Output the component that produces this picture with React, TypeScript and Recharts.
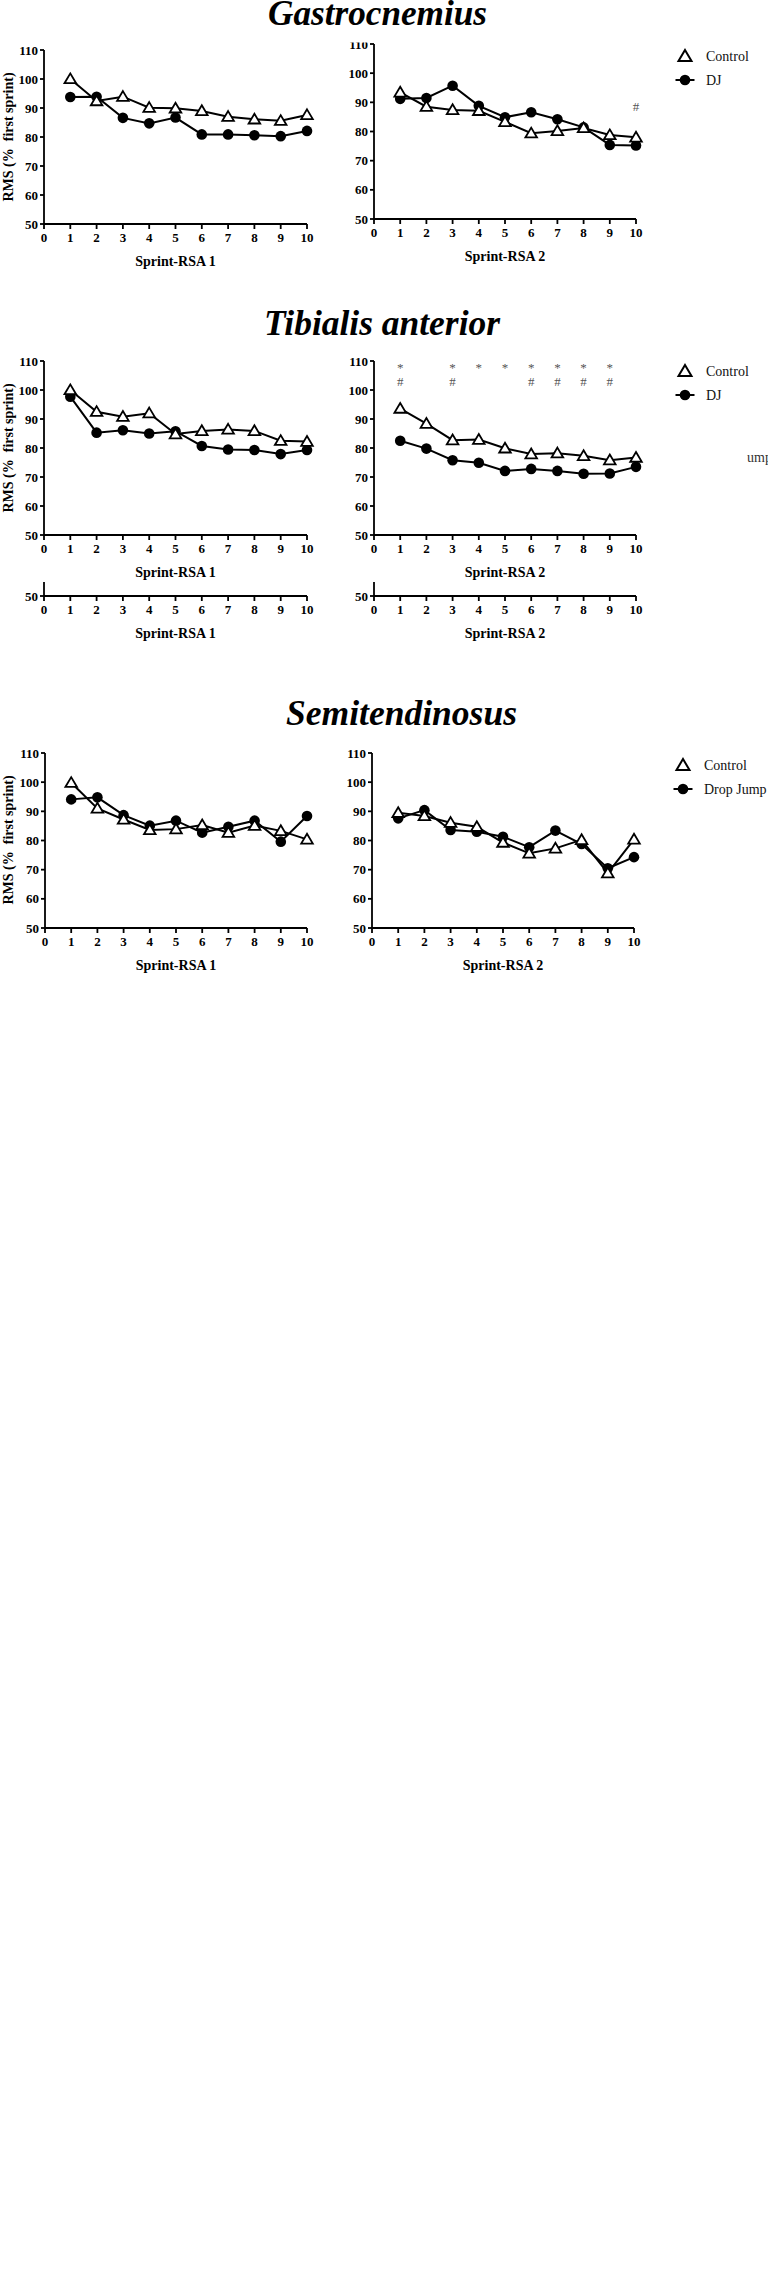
import React from 'react';
import { LineChart, Line, XAxis, YAxis } from 'recharts';

const SERIF = "'Liberation Serif', 'Times New Roman', Times, serif";

// ---------- data ----------
const sprints = [1, 2, 3, 4, 5, 6, 7, 8, 9, 10];
const xTicks = [0, 1, 2, 3, 4, 5, 6, 7, 8, 9, 10];
const yTicks = [50, 60, 70, 80, 90, 100, 110];
const stripTicks = [50];

const gastroRsa1Control = [100.0, 92.4, 93.9, 90.1, 89.9, 89.0, 87.0, 86.1, 85.6, 87.6];
const gastroRsa1DJ = [93.8, 93.9, 86.6, 84.7, 86.7, 80.9, 80.9, 80.6, 80.3, 82.1];
const gastroRsa2Control = [93.4, 88.5, 87.4, 87.1, 83.3, 79.4, 80.2, 81.2, 78.8, 78.0];
const gastroRsa2DJ = [91.2, 91.5, 95.7, 88.8, 84.9, 86.6, 84.2, 81.4, 75.4, 75.2];
const gastroRsa2Hash = [null, null, null, null, null, null, null, null, null, 88.4];

const tibRsa1Control = [100.0, 92.5, 90.8, 92.0, 84.8, 85.9, 86.4, 85.9, 82.5, 82.2];
const tibRsa1DJ = [97.7, 85.3, 86.1, 85.0, 85.8, 80.7, 79.5, 79.3, 77.9, 79.3];
const tibRsa2Control = [93.6, 88.4, 82.7, 82.9, 79.9, 77.9, 78.2, 77.3, 75.8, 76.7];
const tibRsa2DJ = [82.5, 79.8, 75.8, 74.9, 72.1, 72.8, 72.1, 71.1, 71.2, 73.5];
const tibRsa2Star = [108.6, null, 108.6, 108.6, 108.6, 108.6, 108.6, 108.6, 108.6, null];
const tibRsa2Hash = [102.8, null, 102.8, null, null, 102.8, 102.8, 102.8, 102.8, null];

const semiRsa1Control = [99.8, 91.0, 87.2, 83.6, 83.9, 85.3, 82.7, 85.1, 83.3, 80.4];
const semiRsa1DJ = [94.1, 94.8, 88.7, 85.1, 86.8, 82.7, 84.7, 86.8, 79.6, 88.4];
const semiRsa2Control = [89.5, 88.4, 86.1, 84.7, 79.3, 75.6, 77.3, 80.2, 68.8, 80.4];
const semiRsa2DJ = [87.6, 90.4, 83.6, 83.0, 81.3, 77.7, 83.4, 78.8, 70.5, 74.3];

type Num = number | null;
const buildRows = (control: Num[] | null, dj: Num[] | null, star?: Num[], hash?: Num[]) =>
  sprints.map((s, i) => ({
    sprint: s,
    control: control ? control[i] : null,
    dj: dj ? dj[i] : null,
    star: star ? star[i] : null,
    hash: hash ? hash[i] : null,
  }));

// ---------- marks ----------
const TriangleDot = (props: any) => {
  const { cx, cy, index } = props;
  if (cx == null || cy == null || props.value == null) return <g key={`t${index}`} />;
  return (
    <path
      key={`t${index}`}
      d={`M${cx},${cy - 5.6}L${cx + 5.8},${cy + 4.2}L${cx - 5.8},${cy + 4.2}Z`}
      fill="#fff"
      stroke="#000"
      strokeWidth={1.8}
    />
  );
};

const CircleDot = (props: any) => {
  const { cx, cy, index } = props;
  if (cx == null || cy == null || props.value == null) return <g key={`c${index}`} />;
  return <circle key={`c${index}`} cx={cx} cy={cy} r={5.3} fill="#000" />;
};

const makeSymbolDot = (symbol: string, dy: number) => (props: any) => {
  const { cx, cy, index } = props;
  if (cx == null || cy == null || props.value == null) return <g key={`s${symbol}${index}`} />;
  return (
    <text
      key={`s${symbol}${index}`}
      x={cx}
      y={cy + dy}
      textAnchor="middle"
      fontFamily={SERIF}
      fontSize={13}
      fill="#555"
    >
      {symbol}
    </text>
  );
};
const StarDot = makeSymbolDot('*', 6.8);
const HashDot = makeSymbolDot('#', 4.4);

const axisStyle = { stroke: '#000', strokeWidth: 1.8 };
const tickStyle = { fill: '#000', fontSize: 13, fontWeight: 700, fontFamily: SERIF };

type PanelProps = {
  plotLeft: number;
  plotRight: number;
  plotTop: number;
  plotBottom: number;
  rows: any[];
  yDomain?: number[];
  yTickValues?: number[];
  showLines?: boolean;
};

function Panel({ plotLeft, plotRight, plotTop, plotBottom, rows, yDomain = [50, 110], yTickValues = yTicks, showLines = true }: PanelProps) {
  const chartLeft = plotLeft - 44;
  const chartTop = plotTop - 12;
  const width = plotRight - chartLeft + 20;
  const height = plotBottom - chartTop + 30;
  return (
    <div style={{ position: 'absolute', left: chartLeft, top: chartTop, width, height }}>
      <LineChart width={width} height={height} data={rows} margin={{ top: 12, right: 20, left: 0, bottom: 0 }}>
        <XAxis
          dataKey="sprint"
          type="number"
          domain={[0, 10]}
          ticks={xTicks}
          interval={0}
          height={30}
          axisLine={axisStyle}
          tickLine={axisStyle}
          tickSize={5}
          tickMargin={4}
          tick={tickStyle}
        />
        <YAxis
          type="number"
          domain={yDomain}
          ticks={yTickValues}
          interval={0}
          width={44}
          axisLine={axisStyle}
          tickLine={axisStyle}
          tickSize={4}
          tickMargin={2}
          tick={tickStyle}
          allowDataOverflow={!showLines}
        />
        {showLines && (
          <Line dataKey="dj" stroke="#000" strokeWidth={2} dot={CircleDot} activeDot={false} isAnimationActive={false} />
        )}
        {showLines && (
          <Line dataKey="control" stroke="#000" strokeWidth={2} dot={TriangleDot} activeDot={false} isAnimationActive={false} />
        )}
        {showLines && (
          <Line dataKey="star" stroke="none" dot={StarDot} activeDot={false} isAnimationActive={false} />
        )}
        {showLines && (
          <Line dataKey="hash" stroke="none" dot={HashDot} activeDot={false} isAnimationActive={false} />
        )}
      </LineChart>
    </div>
  );
}

const Legend = ({ x, y, second }: { x: number; y: number; second: string }) => (
  <g>
    <path d={`M${x},${y - 6}L${x + 6.5},${y + 5}L${x - 6.5},${y + 5}Z`} fill="#fff" stroke="#000" strokeWidth={2} />
    <text x={x + 21} y={y + 4.6} fontFamily={SERIF} fontSize={14} fill="#111">Control</text>
    <line x1={x - 9.5} x2={x + 9.5} y1={y + 24} y2={y + 24} stroke="#000" strokeWidth={2} />
    <circle cx={x} cy={y + 24} r={5.3} fill="#000" />
    <text x={x + 21} y={y + 28.6} fontFamily={SERIF} fontSize={14} fill="#111">{second}</text>
  </g>
);

const XTitle = ({ cx, axisY, text }: { cx: number; axisY: number; text: string }) => (
  <text x={cx} y={axisY + 41.5} textAnchor="middle" fontFamily={SERIF} fontWeight={700} fontSize={14} fill="#000">
    {text}
  </text>
);

const YTitle = ({ cy }: { cy: number }) => (
  <text
    transform={`translate(13,${cy}) rotate(-90)`}
    textAnchor="middle"
    fontFamily={SERIF}
    fontWeight={700}
    fontSize={14}
    fill="#000"
  >
    {'RMS (%\u00a0 first sprint)'}
  </text>
);

const Title = ({ cx, y, w, text }: { cx: number; y: number; w: number; text: string }) => (
  <text
    x={cx}
    y={y}
    textAnchor="middle"
    fontFamily={SERIF}
    fontWeight={700}
    fontStyle="italic"
    fontSize={35}
    textLength={w}
    lengthAdjust="spacingAndGlyphs"
    fill="#000"
  >
    {text}
  </text>
);

export default function App() {
  return (
    <div style={{ position: 'absolute', left: 0, top: 0, width: 768, height: 2270, background: '#fff', overflow: 'hidden' }}>
      {/* Gastrocnemius */}
      <Panel plotLeft={44} plotRight={307} plotTop={50} plotBottom={224} rows={buildRows(gastroRsa1Control, gastroRsa1DJ)} />
      <Panel plotLeft={374} plotRight={636} plotTop={44} plotBottom={219} rows={buildRows(gastroRsa2Control, gastroRsa2DJ, undefined, gastroRsa2Hash)} />

      {/* Tibialis anterior */}
      <Panel plotLeft={44} plotRight={307} plotTop={361} plotBottom={535} rows={buildRows(tibRsa1Control, tibRsa1DJ)} />
      <Panel plotLeft={374} plotRight={636} plotTop={361} plotBottom={535} rows={buildRows(tibRsa2Control, tibRsa2DJ, tibRsa2Star, tibRsa2Hash)} />
      <Panel plotLeft={44} plotRight={307} plotTop={582} plotBottom={596} rows={buildRows(null, null)} yDomain={[50, 55]} yTickValues={stripTicks} showLines={false} />
      <Panel plotLeft={374} plotRight={636} plotTop={582} plotBottom={596} rows={buildRows(null, null)} yDomain={[50, 55]} yTickValues={stripTicks} showLines={false} />

      {/* Semitendinosus */}
      <Panel plotLeft={45} plotRight={307} plotTop={753} plotBottom={928} rows={buildRows(semiRsa1Control, semiRsa1DJ)} />
      <Panel plotLeft={372} plotRight={634} plotTop={753} plotBottom={928} rows={buildRows(semiRsa2Control, semiRsa2DJ)} />

      <svg width={768} height={2270} style={{ position: 'absolute', left: 0, top: 0, pointerEvents: 'none' }}>
        <rect x={335} y={0} width={90} height={42.5} fill="#fff" />
        <Title cx={377.5} y={25} w={219} text="Gastrocnemius" />
        <Title cx={382} y={335} w={236} text="Tibialis anterior" />
        <Title cx={401.5} y={725} w={231} text="Semitendinosus" />

        <YTitle cy={137} />
        <YTitle cy={448} />
        <YTitle cy={840} />

        <XTitle cx={175.5} axisY={224} text="Sprint-RSA 1" />
        <XTitle cx={505} axisY={219} text="Sprint-RSA 2" />
        <XTitle cx={175.5} axisY={535} text="Sprint-RSA 1" />
        <XTitle cx={505} axisY={535} text="Sprint-RSA 2" />
        <XTitle cx={175.5} axisY={596} text="Sprint-RSA 1" />
        <XTitle cx={505} axisY={596} text="Sprint-RSA 2" />
        <XTitle cx={176} axisY={928} text="Sprint-RSA 1" />
        <XTitle cx={503} axisY={928} text="Sprint-RSA 2" />

        <Legend x={685} y={56} second="DJ" />
        <Legend x={685} y={371} second="DJ" />
        <Legend x={683} y={765} second="Drop Jump" />
        <text x={747} y={462} fontFamily={SERIF} fontSize={14} fill="#333">ump</text>
      </svg>
    </div>
  );
}
